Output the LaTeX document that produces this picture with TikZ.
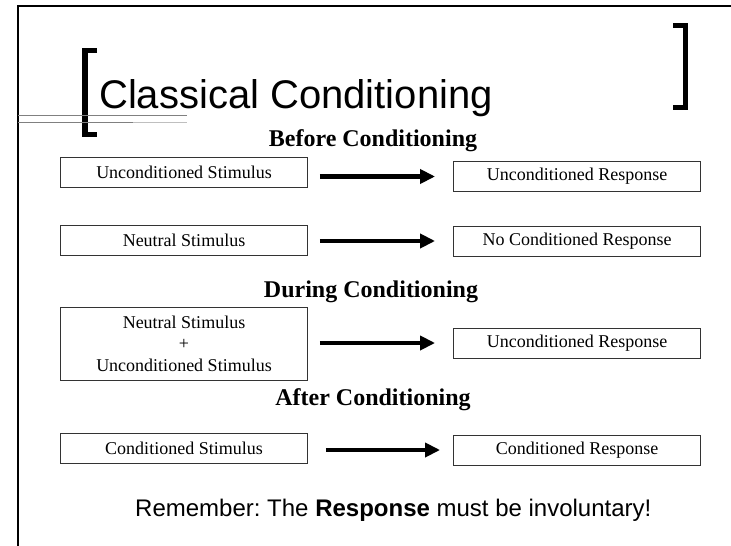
\documentclass[tikz,border=0pt]{standalone}
\usepackage{fontspec}
\setmainfont{Liberation Serif}
\newfontfamily\slidesans{Liberation Sans}
\usetikzlibrary{arrows.meta}
\frenchspacing

\tikzset{
  stagebox/.style={draw=black!80, line width=0.9pt, minimum width=247pt, minimum height=30pt,
    inner sep=2pt, align=center, font=\fontsize{18}{21.5}\selectfont},
  phase/.style={anchor=base, inner sep=0pt, font=\fontsize{24}{26}\selectfont\bfseries},
  leadsto/.style={line width=4.5pt, -{Triangle[length=15pt,width=14pt]},
    shorten <=12pt, shorten >=18pt},
}

\begin{document}
\begin{tikzpicture}[x=1pt,y=-1pt]
\useasboundingbox (0,0) rectangle (731,546);

% slide frame
\draw[line width=2.2pt] (18,546) -- (18,6) -- (731,6);

% title brackets and rules
\draw[line width=5.5pt] (97,50.5) -- (85,50.5) -- (85,134.5) -- (97,134.5);
\draw[line width=5pt] (673,25.5) -- (685.5,25.5) -- (685.5,107.5) -- (673,107.5);
\draw[gray, line width=0.8pt] (18,115) -- (187,115);
\draw[gray!50, line width=0.8pt] (18,122) -- (187,122);
\draw[gray, line width=0.8pt] (18,122) -- (133,122);

\node[anchor=base west, inner sep=0pt, font=\slidesans\fontsize{40}{44}\selectfont]
  (title) at (99,108) {Classical Conditioning};

% before
\node[phase] (before) at (373,146) {Before Conditioning};
\node[stagebox] (us1) at (184,172.5) {Unconditioned Stimulus};
\node[stagebox] (ur1) at (577,176.5) {Unconditioned Response};
\node[stagebox] (ns1) at (184,240) {Neutral Stimulus};
\node[stagebox] (ncr) at (577,241) {No Conditioned Response};
\draw[leadsto] (us1.east |- ur1.west) -- (ur1.west);
\draw[leadsto] (ns1.east |- ncr.west) -- (ncr.west);

% during
\node[phase] (during) at (371,297) {During Conditioning};
\node[stagebox, minimum height=73pt] (pair) at (184,343.5)
  {Neutral Stimulus\\+\\Unconditioned Stimulus};
\node[stagebox] (ur2) at (577,343) {Unconditioned Response};
\draw[leadsto] (pair.east |- ur2.west) -- (ur2.west);

% after
\node[phase] (after) at (373,405) {After Conditioning};
\node[stagebox] (cs) at (184,448) {Conditioned Stimulus};
\node[stagebox] (cr) at (577,450) {Conditioned Response};
\draw[leadsto, shorten <=18pt, shorten >=13pt] (cs.east |- cr.west) -- (cr.west);

\node[anchor=base west, inner sep=0pt, font=\slidesans\fontsize{24}{26}\selectfont]
  (remember) at (135,516) {Remember: The \textbf{Response} must be involuntary!};
\end{tikzpicture}
\end{document}
